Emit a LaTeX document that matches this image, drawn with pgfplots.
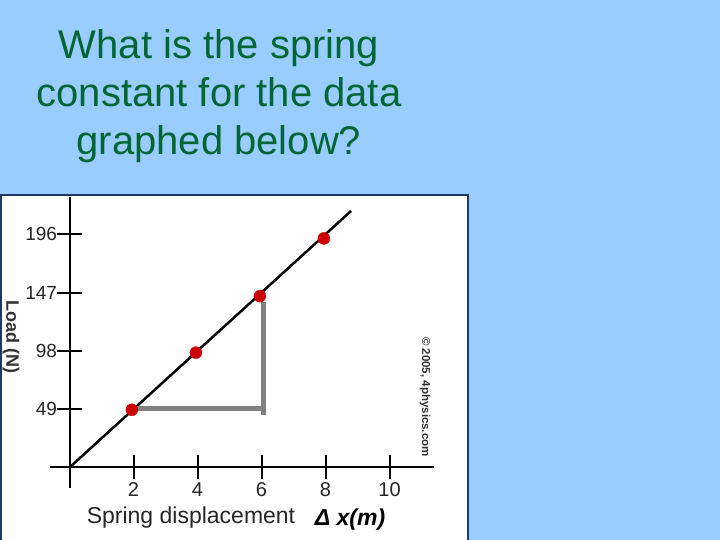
\documentclass[border=0pt]{standalone}
\usepackage{pgfplots}
\pgfplotsset{compat=1.18}
\usepackage{fontspec}
\setmainfont{Liberation Sans}

\definecolor{bgblue}{HTML}{99CCFF}
\definecolor{titlegreen}{RGB}{0,102,51}
\definecolor{panelborder}{HTML}{203864}
\definecolor{ptred}{HTML}{CC0000}
\definecolor{legray}{HTML}{808080}

\begin{document}
\begin{tikzpicture}[x=1pt,y=1pt]
\fill[bgblue] (0,0) rectangle (720,540);
\useasboundingbox (0,0) rectangle (720,540);
\filldraw[fill=white, draw=panelborder, line width=1.5pt] (0.75,-3) rectangle (468,345);

\node[titlegreen, align=center, font=\fontsize{40}{48}\selectfont]
  at (219,444) {What is the spring\\constant for the data\\graphed below?};

\begin{axis}[
    anchor=origin, at={(69.5pt,72.5pt)},
    x=32pt, y=1.19pt,
    xmin=-0.6, xmax=11.4, ymin=-17.2, ymax=227.4,
    axis lines=middle,
    axis line style={line width=2pt, black, -},
    xtick={2,4,6,8,10}, ytick={49,98,147,196},
    tick align=center, major tick length=24pt,
    tick style={line width=2pt, black},
    tick label style={text=black!85},
    xticklabel style={font=\fontsize{20}{22}\selectfont},
    yticklabel style={font=\fontsize{19}{21}\selectfont, xshift=3pt},
    /pgf/number format/assume math mode=true,
    clip=false,
]
\addplot[black, line width=2.5pt] coordinates {(0,0) (8.8,215.6)};
\addplot[only marks, mark=*, mark size=6pt, color=ptred] coordinates {
    (1.95,48.5) (3.95,96.5) (5.95,144) (7.95,192.5)};
\addplot[legray, line width=5pt] coordinates {(2.05,49.5) (6.05,49.5)};
\addplot[legray, line width=5pt] coordinates {(6.05,44.5) (6.05,139)};
\end{axis}

\node[rotate=-90, font=\bfseries\fontsize{18}{20}\selectfont, text=black!80]
  at (11,203) {Load (N)};
\node[font=\fontsize{23}{26}\selectfont, text=black!85] at (191,22) {Spring displacement};
\node[font=\bfseries\itshape\fontsize{23}{25}\selectfont] at (350,20) {Δ x(m)};
\node[rotate=-90, font=\bfseries\fontsize{11.5}{13}\selectfont, text=black!80]
  at (425,143) {© 2005, 4physics.com};
\end{tikzpicture}
\end{document}
